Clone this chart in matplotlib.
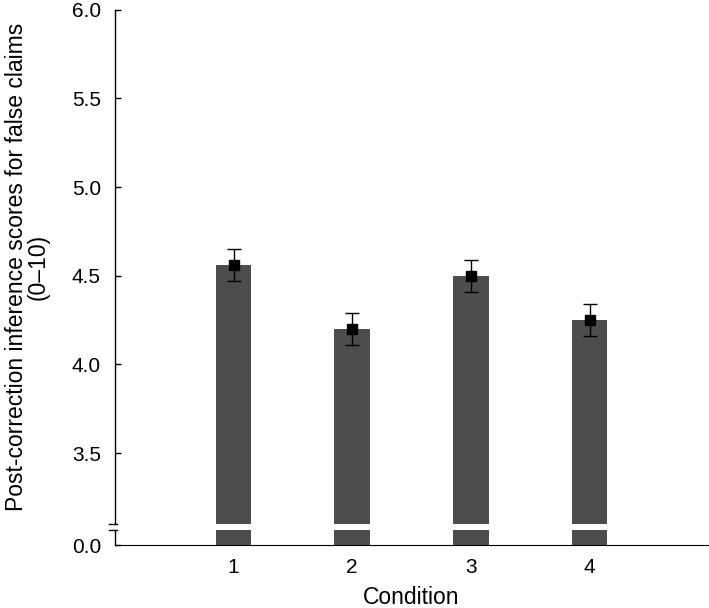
import matplotlib
matplotlib.use("Agg")
import matplotlib.pyplot as plt

plt.rcParams['font.family'] = ['Liberation Sans', 'DejaVu Sans']

conditions = [1, 2, 3, 4]
means = [4.56, 4.20, 4.50, 4.25]
errors = [0.09, 0.09, 0.09, 0.09]
y_ticks_top = [3.5, 4.0, 4.5, 5.0, 5.5, 6.0]

bar_color = '#4d4d4d'

fig = plt.figure(figsize=(7.09, 6.08), dpi=100)
ax_top = fig.add_axes([0.162, 0.138, 0.837, 0.846])
ax_bot = fig.add_axes([0.162, 0.1036, 0.837, 0.0247], sharex=ax_top)

for ax in (ax_top, ax_bot):
    ax.bar(conditions, means, width=0.3, color=bar_color, zorder=1)
    ax.spines['top'].set_visible(False)
    ax.spines['right'].set_visible(False)
    ax.tick_params(axis='y', direction='in', length=4, width=1, pad=10, labelsize=15)
    ax.spines['left'].set_linewidth(1)

ax_top.errorbar(conditions, means, yerr=errors, fmt='s', color='black',
                markersize=7, capsize=5, elinewidth=1, capthick=1, zorder=3)

ax_top.set_ylim(3.1, 6.0)
ax_top.set_yticks(y_ticks_top)
ax_top.set_yticklabels([f'{v:.1f}' for v in y_ticks_top])
ax_top.spines['bottom'].set_visible(False)
ax_top.tick_params(axis='x', bottom=False, labelbottom=False)
ax_top.set_ylabel('Post-correction inference scores for false claims\n(0\u201310)',
                  fontsize=16.5, labelpad=16, linespacing=0.95)

ax_bot.set_ylim(0, 0.1)
ax_bot.set_yticks([0.0])
ax_bot.set_yticklabels(['0.0'])
ax_bot.set_xlim(0, 5)
ax_bot.set_xticks(conditions)
ax_bot.tick_params(axis='x', length=0, pad=9, labelsize=15)
ax_bot.set_xlabel('Condition', fontsize=16.5, labelpad=7)

# break marks on the y axis
ax_top.plot([-0.01, 0.004], [0, 0], transform=ax_top.transAxes, color='black',
            lw=1, clip_on=False)
ax_bot.plot([-0.01, 0.004], [1, 1], transform=ax_bot.transAxes, color='black',
            lw=1, clip_on=False)

fig.savefig('out.png', dpi=100)
